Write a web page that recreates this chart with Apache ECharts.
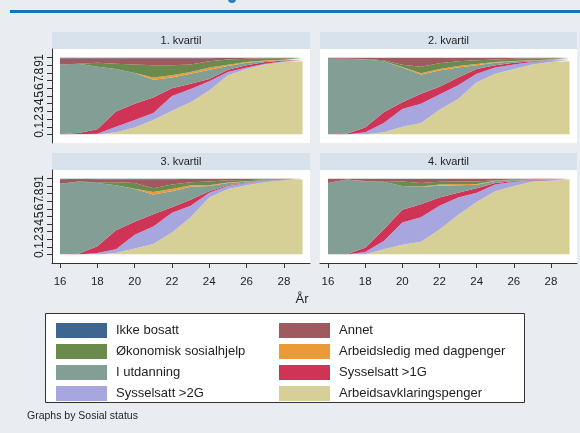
<!DOCTYPE html>
<html>
<head>
<meta charset="utf-8">
<title>Sosial status etter alder</title>
<script src="https://cdn.jsdelivr.net/npm/echarts@6.0.0/dist/echarts.min.js"></script>
<style>
    html, body { margin: 0; padding: 0; background: #e9edf2; }
    #main { width: 580px; height: 433px; }
</style>
</head>
<body>
<div id="main"></div>
<script>
var ages = [16, 17, 18, 19, 20, 21, 22, 23, 24, 25, 26, 27, 28, 29];
var xTicks = [16, 18, 20, 22, 24, 26, 28];
var yTicks = [0, 0.1, 0.2, 0.3, 0.4, 0.5, 0.6, 0.7, 0.8, 0.9, 1];
// labels split over two axes so that the crowded (overlapping) labels all stay visible
var yLabelsEven = [0, 0.2, 0.4, 0.6, 0.8, 1];
var yLabelsOdd = [0.1, 0.3, 0.5, 0.7, 0.9];
var panelTitles = ['1. kvartil', '2. kvartil', '3. kvartil', '4. kvartil'];

// stacking order, bottom -> top
var statusNames = ['Arbeidsavklaringspenger', 'Sysselsatt >2G', 'Sysselsatt >1G', 'I utdanning',
    'Arbeidsledig med dagpenger', 'Økonomisk sosialhjelp', 'Annet', 'Ikke bosatt'];

/* andeler, 1. kvartil */
var q1Aap = [0, 0, 0, .03, .09, .19, .31, .42, .57, .77, .85, .91, .94, .95];
var q1Syss2 = [0, .005, .01, .07, .1, .09, .19, .17, .12, .04, .02, .01, .01, .01];
var q1Syss1 = [.005, .015, .06, .2, .21, .2, .1, .07, .03, .03, .03, .02, .01, .005];
var q1Utd = [.905, .9, .81, .55, .4, .23, .14, .13, .12, .05, .03, .015, .005, .005];
var q1Dagp = [0, 0, 0, 0, 0, .03, .03, .02, .03, .015, .01, .005, .005, .002];
var q1Sos = [0, 0, .05, .07, .11, .16, .13, .1, .08, .07, .045, .03, .02, .018];
var q1Annet = [.08, .07, .06, .07, .08, .09, .09, .08, .04, .02, .01, .005, .005, .005];
var q1Ikke = [.01, .01, .01, .01, .01, .01, .01, .01, .01, .005, .005, .005, .005, .005];

/* andeler, 2. kvartil */
var q2Aap = [0, 0, 0, .03, .1, .15, .32, .46, .68, .79, .85, .91, .94, .95];
var q2Syss2 = [0, 0, .03, .12, .23, .25, .2, .18, .11, .08, .06, .03, .02, .015];
var q2Syss1 = [0, .01, .06, .14, .09, .13, .1, .1, .06, .03, .02, .01, .005, .005];
var q2Utd = [.985, .975, .885, .66, .45, .25, .21, .13, .05, .03, .02, .01, .005, .005];
var q2Dagp = [0, 0, 0, 0, .005, .015, .02, .02, .015, .01, .005, .005, .005, .003];
var q2Sos = [0, 0, .005, .015, .03, .085, .075, .06, .05, .035, .03, .025, .015, .012];
var q2Annet = [.012, .012, .017, .03, .09, .115, .07, .045, .03, .02, .01, .005, .005, .005];
var q2Ikke = [.003, .003, .003, .005, .005, .005, .005, .005, .005, .005, .005, .005, .005, .005];

/* andeler, 3. kvartil */
var q3Aap = [0, 0, 0, .02, .08, .14, .29, .49, .75, .86, .91, .95, .975, .985];
var q3Syss2 = [0, 0, .02, .05, .18, .23, .26, .15, .06, .04, .03, .015, .005, .003];
var q3Syss1 = [0, .01, .09, .25, .17, .16, .07, .08, .02, .01, .005, .005, .002, .002];
var q3Utd = [.93, .95, .83, .59, .43, .26, .21, .17, .07, .03, .015, .005, .003, .002];
var q3Dagp = [0, 0, 0, 0, .005, .03, .03, .02, .01, .005, .002, .001, .001, .001];
var q3Sos = [0, 0, .01, .04, .075, .05, .06, .04, .05, .03, .018, .009, .004, .002];
var q3Annet = [.06, .035, .04, .04, .05, .12, .07, .045, .035, .022, .017, .012, .007, .002];
var q3Ikke = [.01, .005, .01, .01, .01, .01, .01, .005, .005, .003, .003, .003, .003, .003];

/* andeler, 4. kvartil */
var q4Aap = [0, 0, .005, .07, .13, .17, .33, .52, .69, .83, .9, .955, .97, .985];
var q4Syss2 = [0, 0, .03, .11, .29, .32, .31, .23, .12, .09, .055, .015, .01, .005];
var q4Syss1 = [0, .005, .055, .15, .17, .17, .11, .06, .06, .02, .01, .005, .005, .002];
var q4Utd = [.94, .98, .87, .625, .31, .23, .155, .1, .045, .025, .01, .01, .005, .003];
var q4Dagp = [0, 0, 0, 0, 0, .005, .015, .015, .01, .003, .002, .001, .001, 0];
var q4Sos = [0, 0, .005, .01, .06, .045, .035, .035, .035, .007, .008, .004, .002, .001];
var q4Annet = [.055, .012, .03, .03, .035, .055, .04, .037, .037, .022, .012, .007, .004, .002];
var q4Ikke = [.005, .003, .005, .005, .005, .005, .005, .003, .003, .003, .003, .003, .003, .002];

var panels = [
    [q1Aap, q1Syss2, q1Syss1, q1Utd, q1Dagp, q1Sos, q1Annet, q1Ikke],
    [q2Aap, q2Syss2, q2Syss1, q2Utd, q2Dagp, q2Sos, q2Annet, q2Ikke],
    [q3Aap, q3Syss2, q3Syss1, q3Utd, q3Dagp, q3Sos, q3Annet, q3Ikke],
    [q4Aap, q4Syss2, q4Syss1, q4Utd, q4Dagp, q4Sos, q4Annet, q4Ikke]
];

var colors = ['#d6d097', '#a8a6df', '#cf3456', '#829e95', '#eb9a38', '#6b8b4d', '#9e5a5e', '#3f6690'];
var fontName = '"Liberation Sans", Arial, sans-serif';
var ink = '#1e1e1e';

// outer (white) plot regions; the axes run a bit past the data on every side
var boxes = [
    {left: 52, top: 49, width: 258, height: 94},
    {left: 320, top: 49, width: 257, height: 94},
    {left: 52, top: 170, width: 258, height: 93},
    {left: 320, top: 170, width: 257, height: 93}
];
var xMin = 15.57, xMax = 29.4, yMin = -0.11, yMax = 1.11;

var grids = [], xAxes = [], yAxes = [], series = [], graphics = [];

graphics.push({type: 'rect', shape: {x: 10, y: 10, width: 570, height: 3}, style: {fill: '#0f76be'}});
graphics.push({type: 'circle', shape: {cx: 232, cy: -1, r: 4}, style: {fill: '#2a80c2'}});

function yLabelFmt(v) {
    if (v <= 0) return '0';
    if (v >= 1) return '1';
    return '.' + Math.round(v * 10);
}

/* outer grids: white background + visible axes */
boxes.forEach(function (b, i) {
    var bottomRow = i >= 2, leftCol = i % 2 === 0;
    grids.push({left: b.left, top: b.top, width: b.width, height: b.height,
        show: true, backgroundColor: '#ffffff', borderWidth: 0});

    graphics.push({type: 'rect', shape: {x: b.left, y: b.top - 17, width: b.width, height: 17},
        style: {fill: '#d8e2ec'}});
    graphics.push({type: 'text', x: b.left + b.width / 2, y: b.top - 8,
        style: {text: panelTitles[i], align: 'center', verticalAlign: 'middle',
            font: '11px ' + fontName, fill: ink}});

    xAxes.push({
        type: 'value', gridIndex: i, min: xMin, max: xMax,
        axisLine: {show: bottomRow, onZero: false, lineStyle: {color: '#333', width: 1}},
        axisTick: {show: bottomRow, customValues: xTicks, length: 5, lineStyle: {color: '#333'}},
        axisLabel: {show: bottomRow, customValues: xTicks, fontSize: 11.5, color: ink,
            fontFamily: fontName, margin: 13, showMinLabel: true, showMaxLabel: true},
        splitLine: {show: false}
    });
    yAxes.push({
        type: 'value', gridIndex: i, min: yMin, max: yMax,
        axisLine: {show: leftCol, onZero: false, lineStyle: {color: '#333', width: 1}},
        axisTick: {show: leftCol, customValues: yTicks, length: 5, lineStyle: {color: '#333'}},
        axisLabel: {
            show: leftCol, customValues: yLabelsEven, rotate: 90, fontSize: 12, color: ink,
            fontFamily: fontName, margin: 6, showMinLabel: true, showMaxLabel: true,
            formatter: yLabelFmt
        },
        splitLine: {show: false}
    });
    yAxes.push({
        type: 'value', gridIndex: i, min: yMin, max: yMax, position: 'left', offset: 0,
        axisLine: {show: false, onZero: false},
        axisTick: {show: false},
        axisLabel: {
            show: leftCol, customValues: yLabelsOdd, rotate: 90, fontSize: 12, color: ink,
            fontFamily: fontName, margin: 6, showMinLabel: true, showMaxLabel: true,
            formatter: yLabelFmt
        },
        splitLine: {show: false}
    });
});

/* inner grids: data area 16..29 x 0..1, axes hidden */
boxes.forEach(function (b, i) {
    var sx = b.width / (xMax - xMin), sy = b.height / (yMax - yMin);
    var g = grids.length;
    grids.push({
        left: b.left + (ages[0] - xMin) * sx,
        top: b.top + (yMax - 1) * sy,
        width: (ages[ages.length - 1] - ages[0]) * sx,
        height: sy
    });
    xAxes.push({type: 'category', gridIndex: g, data: ages, boundaryGap: false, show: false});
    var yIdx = yAxes.length;
    yAxes.push({type: 'value', gridIndex: g, min: 0, max: 1, show: false});

    panels[i].forEach(function (vals, j) {
        series.push({
            name: statusNames[j],
            type: 'line',
            xAxisIndex: g,
            yAxisIndex: yIdx,
            stack: 'kvartil' + i,
            symbol: 'none',
            color: colors[j],
            lineStyle: {width: 0},
            areaStyle: {color: colors[j], opacity: 1},
            data: vals
        });
    });
});

graphics.push({type: 'text', x: 302, y: 299,
    style: {text: 'År', align: 'center', verticalAlign: 'middle', font: '13px ' + fontName, fill: ink}});
graphics.push({type: 'rect', shape: {x: 45.5, y: 313.5, width: 479, height: 89},
    style: {fill: '#ffffff', stroke: '#333', lineWidth: 1}});
graphics.push({type: 'text', x: 27, y: 416,
    style: {text: 'Graphs by Sosial status', align: 'left', verticalAlign: 'middle',
        font: '10.5px ' + fontName, fill: ink}});

var legendBase = {
    orient: 'vertical', icon: 'rect', itemWidth: 51, itemHeight: 15, itemGap: 6,
    top: 318, selectedMode: false,
    itemStyle: {borderWidth: 0},
    textStyle: {fontSize: 13, color: ink, fontFamily: fontName, padding: [0, 0, 0, 4]}
};

var myChart = echarts.init(document.getElementById('main'));
var option = {
    animation: false,
    backgroundColor: '#e9edf2',
    grid: grids,
    xAxis: xAxes,
    yAxis: yAxes,
    legend: [
        Object.assign({}, legendBase, {left: 51,
            data: ['Ikke bosatt', 'Økonomisk sosialhjelp', 'I utdanning', 'Sysselsatt >2G']}),
        Object.assign({}, legendBase, {left: 274,
            data: ['Annet', 'Arbeidsledig med dagpenger', 'Sysselsatt >1G', 'Arbeidsavklaringspenger']})
    ],
    graphic: graphics,
    series: series
};
myChart.setOption(option);
</script>
</body>
</html>
